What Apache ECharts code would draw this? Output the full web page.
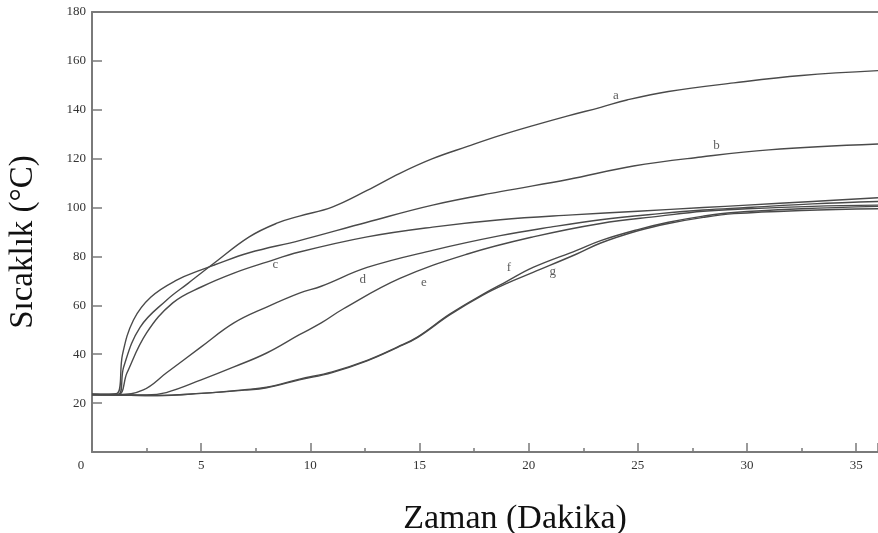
<!DOCTYPE html>
<html>
<head>
<meta charset="utf-8">
<script src="https://cdn.jsdelivr.net/npm/echarts@6/dist/echarts.min.js"></script>
<style>html,body{margin:0;padding:0;background:#fff}#c{width:878px;height:533px}</style>
</head>
<body>
<div id="c"></div>
<script>
// Curve data [time (min), temperature (°C)]
var curveA = [[0,23.5],[1.2,23.5],[1.45,34.8],[2.2,51],[3.4,62],[4.4,69],[5.6,77.3],[7.2,88],[8.5,93.7],[9.5,96.5],[11,100.2],[12.6,107],[14.1,114],[15.6,120],[17.2,125],[18.7,129.5],[20.2,133.5],[21.8,137.5],[23.3,141],[24.5,144],[26.4,147.5],[29.4,151],[32.5,154],[36,156]];
var curveB = [[0,23.5],[1.15,24],[1.4,40],[1.9,54],[2.7,63.4],[3.9,70.4],[5,74.5],[5.6,76.5],[7.2,81.5],[9.5,86.5],[12.6,94],[15.6,101],[18.7,106.5],[21.8,111.5],[24.8,117],[27.9,120.7],[31,123.6],[36,126]];
var curveC = [[0,23.5],[1.2,23.5],[1.6,32.3],[2.5,48.7],[3.7,61],[5,67.5],[6.5,73.2],[8,77.7],[9.5,81.8],[12.6,88],[15.6,92],[18.7,95],[22,97],[25,98.5],[28,100],[30,101],[33,102.5],[36,104]];
var curveD = [[0,23.5],[1.2,23.5],[2.35,25.4],[3.4,32.3],[5,43],[6.5,52.8],[8,59.3],[9.5,65],[10.5,67.8],[12.6,75.5],[15.6,82.5],[18.7,88.5],[21,92],[23.3,95],[26,97.5],[28,99],[30,100],[33,101.5],[36,102.5]];
var curveE = [[0,23.5],[1.2,23.3],[2.5,23.3],[3.4,24.3],[5,29.5],[6.5,34.8],[8,40.5],[9.5,48],[10.5,52.8],[11.5,58.5],[14.1,71],[17.2,81],[20.2,88],[23.3,93.5],[26,96.5],[28,98.5],[30,99.5],[33,100.5],[36,101]];
var curveF = [[0,23.5],[1.2,23.3],[3,23.1],[5,24],[7,25.5],[8,26.5],[9.5,29.8],[11,32.8],[12.6,37.5],[14,43],[14.9,47],[16.4,56.5],[17.9,64.5],[19,69.8],[20.2,75.5],[22.2,82.5],[23.3,86.5],[25,91],[26.4,94],[28,96.5],[29.4,98],[32.5,99.5],[36,100.5]];
var curveG = [[0,23.5],[1.2,23.3],[3,23.1],[5,24],[7,25.3],[8,26.3],[9.5,29.5],[11,32.5],[12.6,37.3],[14,42.8],[14.9,46.8],[16.4,56.2],[17.9,64.2],[19,69],[20.2,73.5],[22.2,81],[23.3,85.5],[25,90.5],[26.4,93.5],[28,96],[29.4,97.5],[32.5,98.8],[36,99.5]];
var curveNames = ['a','b','c','d','e','f','g'];
var labelPoints = [[24.0,146],[28.6,125.3],[8.4,76.5],[12.4,70.4],[15.2,69.4],[19.1,75.3],[21.1,73.8]];
var xTicks = [0,5,10,15,20,25,30,35];
var yTicks = [20,40,60,80,100,120,140,160,180];

var curves = [curveA,curveB,curveC,curveD,curveE,curveF,curveG];
var serif = 'Liberation Serif, DejaVu Serif, serif';
var axisColor = '#7a7a7a';

var series = curves.map(function(d,i){
  return {type:'line', name:curveNames[i], data:d, showSymbol:false, smooth:0.4,
    lineStyle:{color:'#4a4a4a', width:1.4}, silent:true, z:2};
});
series.push({
  type:'scatter', name:'labels', symbolSize:0,
  data: labelPoints.map(function(p,i){return {value:p, name:curveNames[i]};}),
  label:{show:true, position:'inside', formatter:function(p){return p.name;}, fontFamily:serif, fontSize:13, color:'#333'},
  silent:true, z:3
});

var chart = echarts.init(document.getElementById('c'));
chart.setOption({
  animation:false,
  backgroundColor:'#fff',
  grid:{left:92, right:0, top:12, bottom:81, containLabel:false, outerBoundsMode:'none'},
  xAxis:[{
    type:'value', min:0, max:36, interval:5,
    name:'Zaman (Dakika)', nameLocation:'middle', nameGap:50,
    nameTextStyle:{fontFamily:serif, fontSize:34, color:'#111', padding:[0,0,0,60]},
    axisLine:{show:true, lineStyle:{color:axisColor, width:2}},
    axisTick:{show:true, inside:true, length:9, lineStyle:{color:axisColor, width:1.5}},
    minorTick:{show:true, splitNumber:2, length:4, lineStyle:{color:axisColor, width:1.5}},
    axisLabel:{fontFamily:serif, fontSize:13, color:'#333', margin:7, showMaxLabel:false,
      formatter:function(v){ return xTicks.indexOf(v) === 0 ? '{z|' + v + '}' : (xTicks.indexOf(v) >= 0 ? String(v) : ''); },
      rich:{z:{fontFamily:serif, fontSize:13, color:'#333', padding:[0,22,0,0]}}},
    splitLine:{show:false}
  },{
    type:'value', min:0, max:36, position:'top',
    axisLine:{show:true, onZero:false, lineStyle:{color:axisColor, width:2}},
    axisTick:{show:false}, axisLabel:{show:false}, splitLine:{show:false}
  }],
  yAxis:{
    type:'value', min:0, max:180, interval:20,
    name:'Sıcaklık (°C)', nameLocation:'middle', nameGap:52,
    nameTextStyle:{fontFamily:serif, fontSize:33, color:'#111', padding:[0,20,0,0]},
    axisLine:{show:true, lineStyle:{color:axisColor, width:2}},
    axisTick:{show:true, inside:true, length:10, lineStyle:{color:axisColor, width:1.5}},
    axisLabel:{fontFamily:serif, fontSize:13, color:'#333', margin:6, showMinLabel:false},
    splitLine:{show:false}
  },
  series:series
});
</script>
</body>
</html>
